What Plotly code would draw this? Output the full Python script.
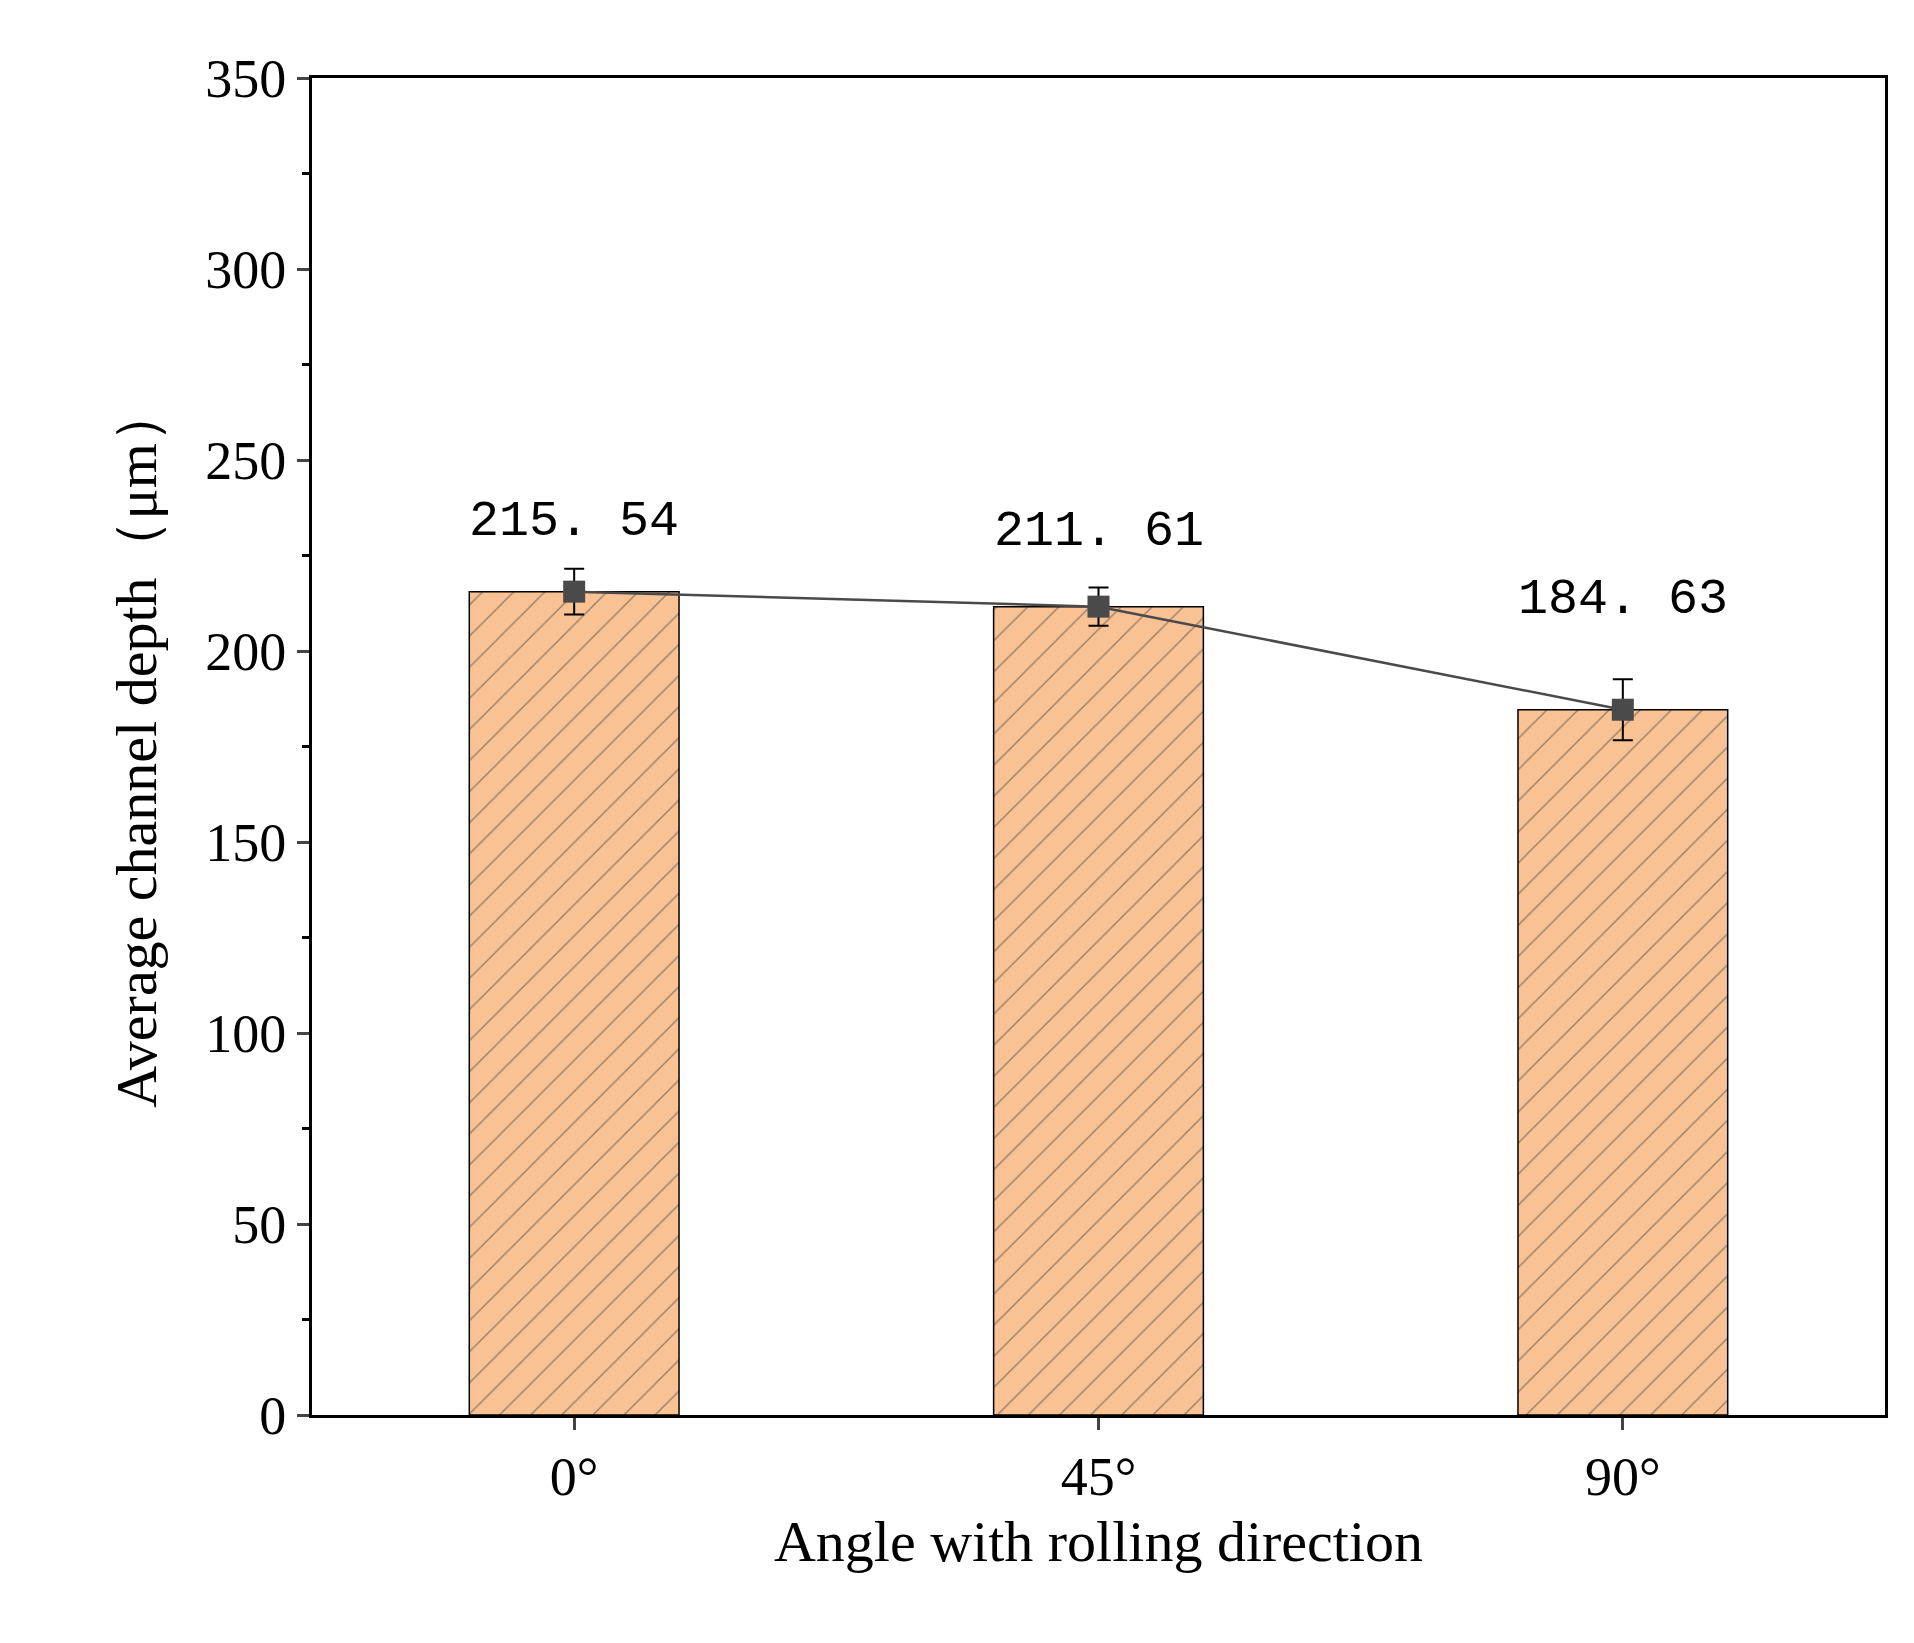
import plotly.graph_objects as go

categories = ["0°", "45°", "90°"]
depth = [215.54, 211.61, 184.63]
err = [6, 5, 8]
labels = ["215. 54", "211. 61", "184. 63"]
xs = [0, 1, 2]

fig = go.Figure()
fig.add_trace(go.Bar(x=xs, y=depth, width=0.4,
    marker=dict(color="#F8C294", line=dict(color="black", width=1.5),
                pattern=dict(shape="/", fgcolor="#333333", size=22, solidity=0.06)),
    showlegend=False))
fig.add_trace(go.Scatter(x=xs, y=depth, mode="lines+markers",
    line=dict(color="#4a4a4a", width=2.5),
    marker=dict(symbol="square", size=22, color="#4a4a4a"),
    error_y=dict(type="data", array=err, color="black", thickness=2, width=10),
    showlegend=False))
yshift = [70, 75, 110]
for x, y, t, s in zip(xs, depth, labels, yshift):
    fig.add_annotation(x=x, y=y, text=t, showarrow=False, yshift=s,
                       font=dict(family="Liberation Mono", size=50, color="black"))

font = dict(family="Liberation Serif", size=54, color="black")
fig.update_layout(width=1914, height=1643, plot_bgcolor="white", paper_bgcolor="white",
    margin=dict(l=304, r=37, t=70, b=236), font=font)
fig.update_xaxes(range=[-0.5, 2.5], tickvals=xs, ticktext=categories, showline=True,
    linecolor="black", linewidth=3, mirror=True, ticks="outside", ticklen=12, tickwidth=3,
    tickfont=font, title=dict(text="Angle with rolling direction", font=dict(family="Liberation Serif", size=58)),
    showgrid=False, zeroline=False)
fig.update_yaxes(range=[0, 350], dtick=50, showline=True, linecolor="black", linewidth=3,
    mirror=True, ticks="outside", ticklen=12, tickwidth=3, tickfont=font,
    minor=dict(dtick=25, ticks="outside", ticklen=7, tickwidth=3, tickcolor="black"),
    title=dict(text="Average channel depth（μm）", font=dict(family="Liberation Serif", size=58), standoff=30),
    showgrid=False, zeroline=False)
fig.write_html("out.html")
